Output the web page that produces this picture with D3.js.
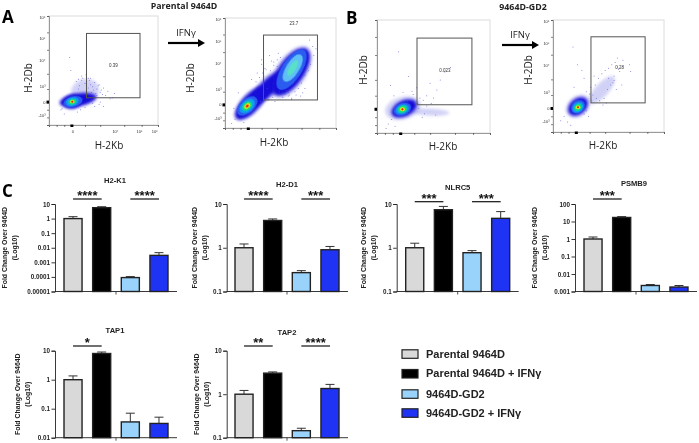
<!DOCTYPE html>
<html><head><meta charset="utf-8">
<script src="https://cdnjs.cloudflare.com/ajax/libs/d3/7.8.5/d3.min.js"></script>
<style>html,body{margin:0;padding:0;background:#fff}svg{display:block;filter:blur(0.35px)}text{font-family:"Liberation Sans",Arial,sans-serif}</style>
</head><body><svg id="c" width="699" height="443"><defs><filter id="soft" x="-40%" y="-40%" width="180%" height="180%"><feGaussianBlur stdDeviation="0.7"/></filter><filter id="softer" x="-50%" y="-50%" width="200%" height="200%"><feGaussianBlur stdDeviation="1.5"/></filter></defs></svg>
<script>
// ---------- bar chart data ----------
const groups = ["Parental 9464D","Parental 9464D + IFNγ","9464D-GD2","9464D-GD2 + IFNγ"];
const groupFill = ["#d9d9d9","#000000","#99d3fb","#1f33f5"];
const genes = ["H2-K1","H2-D1","NLRC5","PSMB9","TAP1","TAP2"];
const h2k1Mean = [1,5.6,0.00009,0.003],  h2k1Top = [1.35,6.5,0.000105,0.0046];
const h2d1Mean = [1,4.2,0.27,0.9],       h2d1Top = [1.22,4.55,0.30,1.07];
const nlrc5Mean = [1,7.4,0.77,4.7],      nlrc5Top = [1.27,8.8,0.86,6.7];
const psmb9Mean = [1,17,0.0022,0.0018],  psmb9Top = [1.3,19,0.0025,0.0022];
const tap1Mean = [1,8,0.035,0.031],      tap1Top = [1.35,9,0.07,0.051];
const tap2Mean = [1,3.05,0.145,1.35],    tap2Top = [1.22,3.25,0.165,1.68];
const means = [h2k1Mean,h2d1Mean,nlrc5Mean,psmb9Mean,tap1Mean,tap2Mean];
const tops = [h2k1Top,h2d1Top,nlrc5Top,psmb9Top,tap1Top,tap2Top];
const tickSets = [
 [10,1,0.1,0.01,0.001,0.0001,0.00001],[10,1,0.1],[10,1,0.1],[100,10,1,0.1,0.01,0.001],[10,1,0.1,0.01],[10,1,0.1]];
const tickText = [
 ["10","1","0.1","0.01","0.001","0.0001","0.00001"],["10","1","0.1"],["10","1","0.1"],["100","10","1","0.1","0.01","0.001"],["10","1","0.1","0.01"],["10","1","0.1"]];
const sigPairs = [
 [[0,1,"****"],[2,3,"****"]],[[0,1,"****"],[2,3,"***"]],[[0,1,"***"],[2,3,"***"]],[[0,1,"***"]],[[0,1,"*"]],[[0,1,"**"],[2,3,"****"]]];
// layout of the six bar panels
const axisX = [55,226.7,396.7,575,55,226.7];
const barX0 = [64,235,405.7,584,64,235];
const plotTop = [204,204,204,204,350.7,350.7];
const plotBottom = [291.5,291.5,291.5,291.5,437.7,437.7];
const titleX = [115,287,457.7,634,115,287];
const titleY = [183,187,190,186,332.5,334.5];
const sigY = [199,199,201.7,199,346,346];
const ytX = [5,195,364,535,18,197];

// ---------- flow cytometry panels (channel units 0-100) ----------
const flowFrames = [[49,16,109,109],[225,18,111,110],[377,20,113,113],[553,20,111,112]];
const flowGate = [[34.4,83.5,25,84],[34.7,83.3,25.5,84.5],[35.4,84,25,84],[34.2,83,26,85]];
const gateLabel = [["0.39",59,55],["23.7",62,95],["0.023",60,55],["0.28",60,58]];
const densityColors = ["#8c8ce8","#1410d8","#10a0f0","#18e07a","#e8e818","#f01818","#5fc0f5","#2a5cf0","#58e0c8"];
// [u, v, rx, ry, rotation, colourIndex]
const blobsA1 = [[33,31,13,11,-20,0],[26.6,23,17,6,-10,1],[21.4,21.4,8.5,6.5,-12,1],[22,21.4,9,5,-14,7],[21.4,21.4,6,3.8,-15,2],[21.4,21.4,3.5,2.6,-15,3],[21.4,21.4,2,1.5,0,4],[21.4,21.4,1,.9,0,5]];
const blobsA2 = [[23.4,22.7,20,9,-47,0],[40,38,20,9,-45,0],[59.5,51,27,14,-55,0],[23.4,22.7,19,8,-47,1],[39,37,19,7,-45,1],[59.5,51,25,11.5,-55,1],[60,53,21,9,-57,7],[61,54.5,14,6,-58,6],[61,54.5,8,3,-58,8],[20,20,11,6.5,-42,7],[20,20,8,5,-42,2],[20,20,5,3.4,-42,3],[20,20,3,2,-42,4],[20,20,1.5,1.1,-42,5]];
const blobsB1 = [[47,18.5,17,3,3,0],[23,22,16,10,-15,0],[24,21.7,12,7,-25,1],[22.5,21,8,5.5,-22,7],[22.5,21,6,4,-22,2],[22.5,21,4,3,-22,3],[22.5,21,2.2,1.8,0,4],[22.5,21,1,1,0,5]];
const blobsB2 = [[44,37.5,16,6,-47,0],[22.5,23,12,9,-40,0],[22.5,22.8,10,7,-40,1],[22.5,22.5,7,5.5,-40,7],[22.5,22,5.5,4.2,-40,2],[22.5,22,3.6,2.8,-40,3],[22.5,22,2,1.7,0,4],[22.5,22,1,.9,0,5]];
const blobSets = [blobsA1,blobsA2,blobsB1,blobsB2];
const specksA1u = [19,20,30,33,37,40,42,44,46,47,49,50,52,54,56,58,36,39,43,45,48,38,41,12,14,27,11,60,35,25,28,31,34,38,41,36,30,27,44,47,40,42,33,29,26,46,50];
const specksA1v = [62,50,45,38,41,35,39,33,37,30,28,34,27,31,24,25,34,30,29,36,32,43,26,15,10,42,14,29,28,40,36,43,46,37,32,43,41,33,27,21,20,17,16,14,12,19,17];
const specksA2u = [6,9,10,14,17,24,29,33,35,38,40,44,47,30,27,50,54,57,76,79,80,82,70,72,68,33,26,45,52,58,12,8,60,64,75,73,40,36,28,31,34,37,41,44,47,50,39,43,46,49,52,55,72,75,77,69,66,63,60,57,54,35,32,42,48];
const specksA2v = [4,8,12,9,5,44,50,58,47,36,30,60,56,38,35,42,36,32,80,74,66,72,32,36,29,62,34,24,28,30,32,18,26,30,62,55,66,54,42,46,50,53,52,57,62,64,26,28,31,33,32,34,48,52,58,41,36,33,27,29,31,26,24,61,68];
const specksB1u = [8,10,13,16,19,27,32,35,38,41,44,47,50,53,56,60,65,28,31,36,23,15,12,42,52,37,33,30,40,44,48];
const specksB1v = [4,8,12,6,72,28,34,40,31,29,33,44,31,38,47,54,58,50,37,26,36,33,42,17,16,22,26,18,14,24,26];
const specksB2u = [7,10,13,16,18,28,30,26,58,63,69,70,55,60,50,54,35,39,33,19,22,45,48,62,58,36,38,41,44,47,50,53,56,59,42,46,49,52,34,37,30,28,32,55,57];
const specksB2v = [10,14,9,6,76,48,36,55,58,64,60,54,50,54,48,44,28,30,34,40,60,24,26,42,66,33,42,48,52,55,57,60,62,56,28,30,38,42,40,50,19,16,14,46,38];
const speckU = [specksA1u,specksA2u,specksB1u,specksB2u];
const speckV = [specksA1v,specksA2v,specksB1v,specksB2v];
const flowTicks = [0,7,14,21,33,47,69,85,100];
const flowYLabels = [["10⁶",99],["10⁵",79],["10⁴",59],["10³",35],["0",21],["-10³",9]];
const flowXLabels = [["0",22],["10⁴",61],["10⁵",83],["10⁶",97]];
const flowShowLabels = [[true,true],[true,false],[false,false],[true,false]];

// ---------- text blocks ----------
const headings = [["Parental 9464D",184,9],["9464D-GD2",523,10]];
const letters = [["A",2,23],["B",346,24],["C",2,197]];
const arrows = [[168,205,43,186,36],[502,539,45,520,38]];
const kbLabels = [[109,149],[274,146],[443,150],[603,149]];
const dbLabels = [[28,78],[190,78],[363,70],[528,70]];
const legendY = [354,373.7,394,413];

const svg = d3.select("#c");

// flow panels
flowFrames.forEach((f,i)=>{
  const x = d3.scaleLinear().domain([0,100]).range([f[0],f[0]+f[2]]);
  const y = d3.scaleLinear().domain([0,100]).range([f[1]+f[3],f[1]]);
  const g = svg.append("g");
  g.append("rect").attr("x",x(0)).attr("y",y(100)).attr("width",x(100)-x(0)).attr("height",y(0)-y(100))
   .attr("fill","none").attr("stroke","#dcdcdc").attr("stroke-width",1);
  const gx = g.append("g").attr("transform",`translate(0,${y(0)})`)
    .call(d3.axisBottom(x).tickValues(flowTicks).tickSize(2).tickFormat(""));
  const gy = g.append("g").attr("transform",`translate(${x(0)},0)`)
    .call(d3.axisLeft(y).tickValues(flowTicks).tickSize(2).tickFormat(""));
  [gx,gy].forEach(a=>{a.selectAll("path").attr("stroke","#777").attr("stroke-width",.7);a.selectAll("line").attr("stroke","#333").attr("stroke-width",.6);});
  // black zero markers
  g.append("rect").attr("x",x(21)-1.5).attr("y",y(0)-.5).attr("width",3).attr("height",2.5).attr("fill","#000");
  g.append("rect").attr("x",x(0)-2.5).attr("y",y(21)-1.5).attr("width",2.5).attr("height",3).attr("fill","#000");
  // density blobs
  g.append("g").selectAll("ellipse").data(blobSets[i]).join("ellipse")
   .attr("rx",d=>x(d[2])-x(0)).attr("ry",d=>y(0)-y(d[3]))
   .attr("transform",d=>`translate(${x(d[0])},${y(d[1])}) rotate(${d[4]})`)
   .attr("filter",d=>d[5]<=1?"url(#softer)":"url(#soft)")
   .attr("fill",d=>densityColors[d[5]]).attr("fill-opacity",d=>d[5]===0?0.4:1);
  // specks
  g.append("g").selectAll("circle").data(speckU[i]).join("circle")
   .attr("cx",d=>x(d)).attr("cy",(d,k)=>y(speckV[i][k])).attr("r",.5).attr("fill","#4a4ad8").attr("fill-opacity",.75);
  // gate
  const gt = flowGate[i];
  g.append("rect").attr("x",x(gt[0])).attr("y",y(gt[3])).attr("width",x(gt[1])-x(gt[0])).attr("height",y(gt[2])-y(gt[3]))
   .attr("fill","none").attr("stroke","#555").attr("stroke-width",1);
  const gl = gateLabel[i];
  g.append("text").text(gl[0]).attr("x",x(gl[1])).attr("y",y(gl[2])+1.5).attr("text-anchor","middle").attr("font-size",4.5).attr("fill","#333");
  if(flowShowLabels[i][0]) flowYLabels.forEach(l=>g.append("text").text(l[0]).attr("x",x(0)-3.5).attr("y",y(l[1])+1.5).attr("text-anchor","end").attr("font-size",4).attr("fill","#333"));
  if(flowShowLabels[i][1]) flowXLabels.forEach(l=>g.append("text").text(l[0]).attr("x",x(l[1])).attr("y",y(0)+8).attr("text-anchor","middle").attr("font-size",4).attr("fill","#333"));
});
kbLabels.forEach(l=>svg.append("text").text("H-2Kb").attr("x",l[0]).attr("y",l[1]).attr("text-anchor","middle").attr("font-size",10).attr("fill","#222").style("font-family","'Open Sans'"));
dbLabels.forEach(l=>svg.append("text").text("H-2Db").attr("transform",`translate(${l[0]+3.5},${l[1]}) rotate(-90)`).attr("text-anchor","middle").attr("font-size",10).attr("fill","#222").style("font-family","'Open Sans'"));
headings.forEach(h=>svg.append("text").text(h[0]).attr("x",h[1]).attr("y",h[2]).attr("text-anchor","middle").attr("font-size",8.8).attr("font-weight","bold").attr("fill","#222").style("font-family","'Open Sans'"));
letters.forEach(l=>svg.append("text").text(l[0]).attr("x",l[1]).attr("y",l[2]).attr("font-size",17).attr("font-weight","bold").attr("fill","#000").style("font-family","'Open Sans'"));
arrows.forEach(a=>{
  svg.append("line").attr("x1",a[0]).attr("x2",a[1]-5).attr("y1",a[2]).attr("y2",a[2]).attr("stroke","#000").attr("stroke-width",2.2);
  svg.append("path").attr("d",d3.line()([[a[1]-7,a[2]-4],[a[1],a[2]],[a[1]-7,a[2]+4]])+"Z").attr("fill","#000");
  svg.append("text").text("IFNγ").attr("x",a[3]).attr("y",a[4]).attr("text-anchor","middle").attr("font-size",9.5).attr("fill","#222").style("font-family","'Open Sans'");
});

// bar panels
genes.forEach((name,i)=>{
  const g = svg.append("g");
  const ts = tickSets[i];
  const y = d3.scaleLog().domain([ts[ts.length-1],ts[0]]).range([plotBottom[i],plotTop[i]]);
  const x = d3.scaleBand().domain(groups).range([barX0[i],barX0[i]+104]).paddingInner(0.37);
  const base = y.range()[0];
  // error whiskers
  groups.forEach((k,j)=>{
    const cx = x(k)+x.bandwidth()/2;
    g.append("line").attr("x1",cx).attr("x2",cx).attr("y1",y(means[i][j])).attr("y2",y(tops[i][j])).attr("stroke","#333").attr("stroke-width",1);
    g.append("line").attr("x1",cx-4.5).attr("x2",cx+4.5).attr("y1",y(tops[i][j])).attr("y2",y(tops[i][j])).attr("stroke","#333").attr("stroke-width",1);
  });
  g.selectAll("rect.b").data(means[i]).join("rect").attr("class","b")
   .attr("x",(d,j)=>x(groups[j])).attr("width",x.bandwidth())
   .attr("y",d=>y(d)).attr("height",d=>base-y(d))
   .attr("fill",(d,j)=>groupFill[j]).attr("stroke","#222").attr("stroke-width",1.4);
  const ax = g.append("g").attr("transform",`translate(${axisX[i]},0)`)
    .call(d3.axisLeft(y).tickValues(ts).tickSize(3.5).tickPadding(1.5).tickFormat((d,k)=>tickText[i][k]));
  ax.selectAll("path").attr("stroke","#222").attr("stroke-width",.9);
  ax.selectAll("line").attr("stroke","#222").attr("stroke-width",.9);
  ax.selectAll("text").attr("font-size",6.3).attr("font-weight","bold").attr("fill","#222");
  const xEnd = barX0[i]+113;
  g.append("line").attr("x1",axisX[i]).attr("x2",xEnd).attr("y1",base).attr("y2",base).attr("stroke","#222").attr("stroke-width",.9);
  const mid = barX0[i]+52;
  g.append("line").attr("x1",mid).attr("x2",mid).attr("y1",base).attr("y2",base+3).attr("stroke","#222").attr("stroke-width",.8);
  g.append("text").text(name).attr("x",titleX[i]).attr("y",titleY[i]).attr("text-anchor","middle").attr("font-size",7.6).attr("font-weight","bold").attr("fill","#222");
  // y title
  const yc = (plotTop[i]+plotBottom[i])/2;
  g.append("text").text("Fold Change Over 9464D").attr("transform",`translate(${ytX[i]+2.4},${yc}) rotate(-90)`).attr("text-anchor","middle").attr("font-size",6.9).attr("font-weight","bold").attr("fill","#222");
  g.append("text").text("(Log10)").attr("transform",`translate(${ytX[i]+11.8},${yc}) rotate(-90)`).attr("text-anchor","middle").attr("font-size",6.9).attr("font-weight","bold").attr("fill","#222");
  // significance
  sigPairs[i].forEach(p=>{
    const a = x(groups[p[0]])+x.bandwidth()/2, b = x(groups[p[1]])+x.bandwidth()/2;
    g.append("line").attr("x1",a).attr("x2",b).attr("y1",sigY[i]).attr("y2",sigY[i]).attr("stroke","#111").attr("stroke-width",1.2);
    g.append("text").text(p[2]).attr("x",(a+b)/2).attr("y",sigY[i]+1).attr("text-anchor","middle").attr("font-size",13).attr("font-weight","bold").attr("fill","#111");
  });
});

// legend
const leg = svg.append("g");
leg.selectAll("rect").data(groups).join("rect").attr("x",402).attr("width",16).attr("height",8.5)
  .attr("y",(d,i)=>legendY[i]-4.2).attr("fill",(d,i)=>groupFill[i]).attr("stroke","#222").attr("stroke-width",1.2);
leg.selectAll("text").data(groups).join("text").attr("x",426).attr("y",(d,i)=>legendY[i]+3.6)
  .text(d=>d).attr("font-size",11).attr("font-weight","bold").attr("fill","#222");
</script></body></html>
